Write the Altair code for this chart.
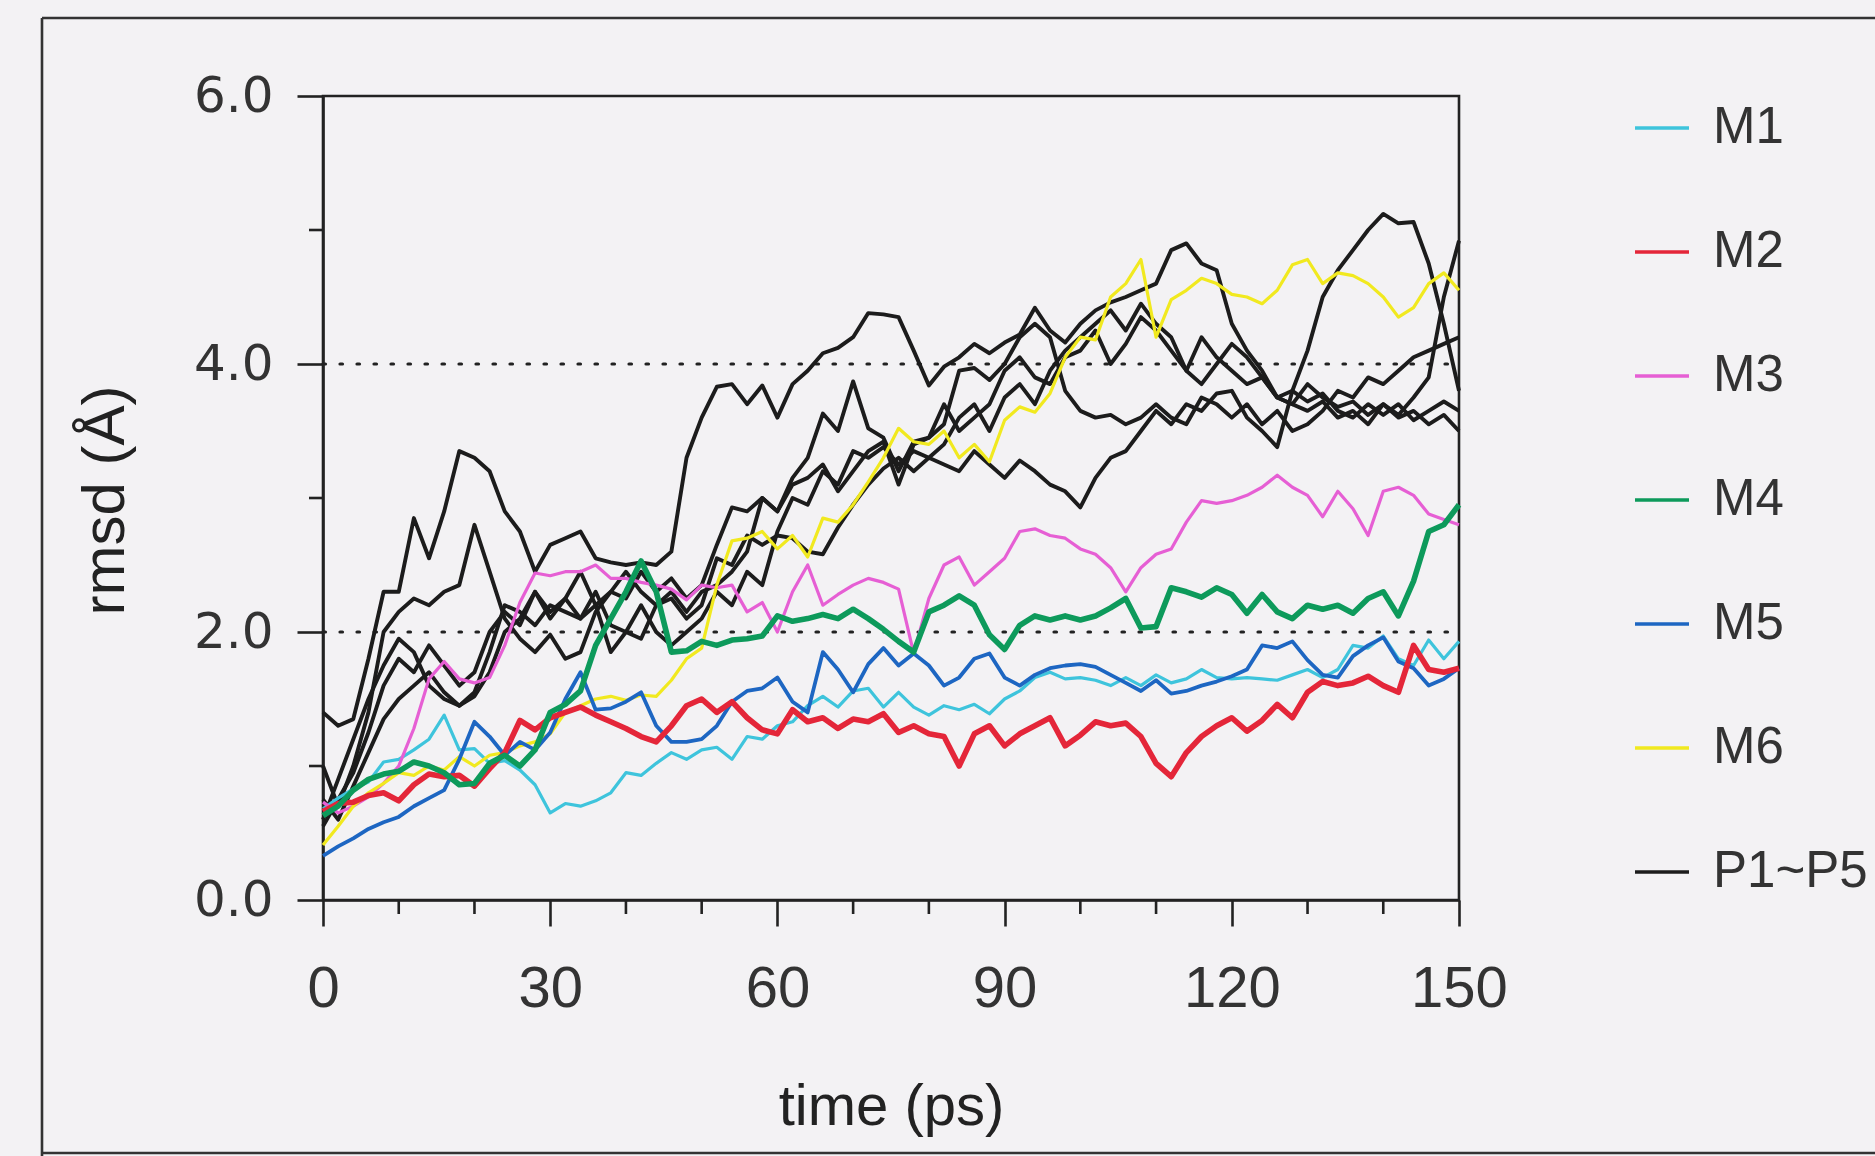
import altair as alt
import pandas as pd

# ---------------- data (every 2 ps) ----------------
time_ps = list(range(0, 151, 2))

M1 = [0.68, 0.76, 0.83, 0.88, 1.03, 1.05, 1.12, 1.2, 1.38, 1.12,
      1.13, 1.02, 1.04, 0.97, 0.86, 0.65, 0.72, 0.7, 0.74, 0.8,
      0.95, 0.93, 1.02, 1.1, 1.05, 1.12, 1.14, 1.05, 1.22, 1.2,
      1.3, 1.33, 1.45, 1.52, 1.44, 1.56, 1.58, 1.44, 1.55, 1.44,
      1.38, 1.45, 1.42, 1.46, 1.39, 1.5, 1.56, 1.66, 1.7, 1.65,
      1.66, 1.64, 1.6, 1.66, 1.6, 1.68, 1.62, 1.65, 1.72, 1.66,
      1.65, 1.66, 1.65, 1.64, 1.68, 1.72, 1.66, 1.72, 1.9, 1.88,
      1.97, 1.8, 1.75, 1.94, 1.8, 1.93]
M2 = [0.66, 0.72, 0.73, 0.78, 0.8, 0.74, 0.86, 0.94, 0.92, 0.93,
      0.85, 0.98, 1.1, 1.34, 1.27, 1.36, 1.4, 1.44, 1.38, 1.33,
      1.28, 1.22, 1.18, 1.3, 1.45, 1.5, 1.4, 1.48, 1.36, 1.27,
      1.24, 1.42, 1.33, 1.36, 1.28, 1.35, 1.33, 1.39, 1.25, 1.3,
      1.24, 1.22, 1.0, 1.24, 1.3, 1.15, 1.24, 1.3, 1.36, 1.15,
      1.23, 1.33, 1.3, 1.32, 1.22, 1.02, 0.92, 1.1, 1.22, 1.3,
      1.36, 1.26, 1.34, 1.46, 1.36, 1.55, 1.63, 1.6, 1.62, 1.67,
      1.6, 1.55, 1.9, 1.72, 1.7, 1.73]
M3 = [0.73, 0.65, 0.7, 0.77, 0.87, 1.0, 1.28, 1.65, 1.78, 1.65,
      1.62, 1.66, 1.9, 2.22, 2.44, 2.42, 2.45, 2.45, 2.5, 2.4,
      2.4, 2.37, 2.35, 2.32, 2.24, 2.35, 2.33, 2.35, 2.15, 2.22,
      2.0, 2.3, 2.5, 2.2, 2.28, 2.35, 2.4, 2.37, 2.32, 1.84,
      2.25, 2.5, 2.56, 2.35, 2.45, 2.55, 2.75, 2.77, 2.72, 2.7,
      2.62, 2.58, 2.48, 2.3, 2.48, 2.58, 2.62, 2.82, 2.98, 2.96,
      2.98, 3.02, 3.08, 3.17, 3.08, 3.02, 2.86, 3.05, 2.92, 2.72,
      3.05, 3.08, 3.02, 2.88, 2.84, 2.8]
M4 = [0.63, 0.7, 0.82, 0.9, 0.94, 0.96, 1.03, 1.0, 0.95, 0.86,
      0.87, 1.02, 1.08, 1.0, 1.12, 1.4, 1.46, 1.56, 1.9, 2.1,
      2.3, 2.53, 2.3, 1.85, 1.86, 1.93, 1.9, 1.94, 1.95, 1.97,
      2.12, 2.08, 2.1, 2.13, 2.1, 2.17, 2.1, 2.02, 1.93, 1.85,
      2.15, 2.2, 2.27, 2.2, 1.98, 1.87, 2.05, 2.12, 2.09, 2.12,
      2.09, 2.12, 2.18, 2.25, 2.03, 2.04, 2.33, 2.3, 2.26, 2.33,
      2.28, 2.14, 2.28, 2.15, 2.1, 2.2, 2.17, 2.2, 2.14, 2.25,
      2.3, 2.12, 2.38, 2.75, 2.8, 2.95]
M5 = [0.33, 0.4, 0.46, 0.53, 0.58, 0.62, 0.7, 0.76, 0.82, 1.05,
      1.33, 1.22, 1.08, 1.18, 1.12, 1.25, 1.5, 1.7, 1.42, 1.43,
      1.48, 1.55, 1.3, 1.18, 1.18, 1.2, 1.3, 1.48, 1.56, 1.58,
      1.66, 1.48, 1.4, 1.85, 1.72, 1.55, 1.76, 1.88, 1.75, 1.84,
      1.75, 1.6, 1.66, 1.8, 1.84, 1.66, 1.6, 1.68, 1.73, 1.75,
      1.76, 1.74, 1.68, 1.62, 1.56, 1.64, 1.54, 1.56, 1.6, 1.63,
      1.67, 1.72, 1.9, 1.88, 1.93, 1.79, 1.68, 1.66, 1.82, 1.9,
      1.96, 1.78, 1.73, 1.6, 1.65, 1.73]
M6 = [0.41, 0.55, 0.7, 0.8, 0.87, 0.95, 0.93, 1.0, 0.97, 1.07,
      1.0, 1.08, 1.1, 1.15, 1.18, 1.24, 1.4, 1.45, 1.5, 1.52,
      1.49, 1.53, 1.52, 1.64, 1.8, 1.88, 2.35, 2.68, 2.7, 2.75,
      2.62, 2.72, 2.56, 2.85, 2.82, 2.95, 3.12, 3.3, 3.52, 3.42,
      3.4, 3.5, 3.3, 3.4, 3.27, 3.58, 3.68, 3.64, 3.78, 4.05,
      4.2, 4.18, 4.5, 4.6, 4.78, 4.2, 4.48, 4.55, 4.64, 4.6,
      4.52, 4.5, 4.45, 4.55, 4.74, 4.78, 4.6, 4.68, 4.66, 4.6,
      4.5, 4.35, 4.42, 4.6, 4.68, 4.55]
P1 = [1.4, 1.3, 1.35, 1.8, 2.3, 2.3, 2.85, 2.55, 2.9, 3.35,
      3.3, 3.2, 2.9, 2.75, 2.45, 2.65, 2.7, 2.75, 2.55, 2.52,
      2.5, 2.52, 2.5, 2.6, 3.3, 3.6, 3.83, 3.85, 3.7, 3.84,
      3.6, 3.85, 3.95, 4.08, 4.12, 4.2, 4.38, 4.37, 4.35, 4.1,
      3.84, 3.98, 4.05, 4.15, 4.08, 4.16, 4.22, 4.42, 4.25, 4.16,
      4.3, 4.4, 4.46, 4.5, 4.55, 4.6, 4.85, 4.9, 4.75, 4.7,
      4.3, 4.1, 3.95, 3.75, 3.7, 3.85, 3.75, 3.68, 3.72, 3.62,
      3.7, 3.6, 3.65, 3.55, 3.62, 3.5]
P2 = [1.0, 0.7, 1.0, 1.4, 2.0, 2.15, 2.25, 2.2, 2.3, 2.35,
      2.8, 2.45, 2.1, 1.95, 1.85, 1.98, 1.8, 1.85, 2.15, 2.3,
      2.25, 2.45, 2.3, 2.4, 2.25, 2.35, 2.65, 2.93, 2.9, 3.0,
      2.9, 3.15, 3.3, 3.63, 3.5, 3.87, 3.52, 3.45, 3.2, 3.42,
      3.45, 3.55, 3.95, 3.97, 3.88, 4.0, 4.2, 4.3, 4.2, 3.8,
      3.65, 3.6, 3.62, 3.55, 3.6, 3.7, 3.6, 3.55, 3.75, 3.7,
      3.6, 3.7, 3.55, 3.65, 3.5, 3.55, 3.65, 3.8, 3.75, 3.9,
      3.85, 3.95, 4.05, 4.1, 4.15, 4.2]
P3 = [0.6, 0.9, 1.2, 1.5, 1.75, 1.95, 1.85, 1.6, 1.5, 1.45,
      1.55, 1.85, 2.2, 2.15, 2.05, 2.2, 2.15, 2.1, 2.3, 2.05,
      2.0, 1.95, 2.2, 2.25, 2.1, 2.2, 2.55, 2.5, 2.72, 2.65,
      2.72, 2.7, 2.6, 2.58, 2.78, 2.95, 3.1, 3.22, 3.3, 3.2,
      3.3, 3.25, 3.2, 3.35, 3.25, 3.15, 3.28, 3.2, 3.1, 3.05,
      2.93, 3.15, 3.3, 3.35, 3.5, 3.65, 3.55, 3.7, 3.65, 3.78,
      3.8, 3.6, 3.5, 3.38, 3.8, 4.1, 4.5, 4.7, 4.85, 5.0,
      5.12, 5.05, 5.06, 4.75, 4.3, 3.8]
P4 = [0.55, 0.75, 0.95, 1.25, 1.6, 1.8, 1.7, 1.9, 1.75, 1.6,
      1.7, 2.0, 2.15, 2.05, 2.3, 2.15, 2.25, 2.1, 2.2, 1.85,
      2.0, 2.2, 2.0, 1.9, 2.0, 2.1, 2.3, 2.2, 2.45, 2.35,
      2.75, 3.0, 2.95, 3.2, 3.1, 3.35, 3.3, 3.38, 3.25, 3.35,
      3.3, 3.4, 3.6, 3.7, 3.5, 3.75, 3.85, 3.7, 3.95, 4.1,
      4.2, 4.3, 4.4, 4.25, 4.45, 4.3, 4.2, 3.95, 3.85, 4.0,
      4.15, 4.05, 3.9, 3.75, 3.7, 3.65, 3.72, 3.6, 3.65, 3.55,
      3.7, 3.62, 3.75, 3.9, 4.5, 4.92]
P5 = [0.75, 0.6, 0.85, 1.1, 1.35, 1.5, 1.6, 1.7, 1.55, 1.45,
      1.52, 1.7, 2.0, 2.1, 2.3, 2.1, 2.25, 2.45, 2.2, 2.3,
      2.45, 2.3, 2.2, 2.3, 2.15, 2.3, 2.35, 2.45, 2.6, 3.0,
      2.9, 3.1, 3.15, 3.25, 3.05, 3.2, 3.35, 3.42, 3.1, 3.4,
      3.45, 3.7, 3.5, 3.6, 3.7, 3.95, 4.05, 3.9, 3.85, 4.05,
      4.1, 4.25, 4.0, 4.15, 4.35, 4.25, 4.1, 3.95, 4.2, 4.05,
      3.95, 3.85, 3.9, 3.75, 3.8, 3.72, 3.78, 3.65, 3.6, 3.7,
      3.62, 3.7, 3.58, 3.65, 3.72, 3.65]

series = [("M1", M1, "M1"), ("M2", M2, "M2"), ("M3", M3, "M3"),
          ("M4", M4, "M4"), ("M5", M5, "M5"), ("M6", M6, "M6"),
          ("P1", P1, "P1~P5"), ("P2", P2, "P1~P5"), ("P3", P3, "P1~P5"),
          ("P4", P4, "P1~P5"), ("P5", P5, "P1~P5")]

groups = ["M1", "M2", "M3", "M4", "M5", "M6", "P1~P5"]
group_colors = ["#3ec4dc", "#e42639", "#e65fd4", "#0d9a5b", "#1d66c2", "#f1e91f", "#1c1c1c"]

x_major = [0, 30, 60, 90, 120, 150]
x_minor = [10, 20, 40, 50, 70, 80, 100, 110, 130, 140]
y_major = [0, 2, 4, 6]
y_minor = [1, 3, 5]
guide_levels = [2, 4]

rows = []
for name, vals, grp in series:
    assert len(vals) == len(time_ps), name
    for t, v in zip(time_ps, vals):
        rows.append({"time": t, "rmsd": v, "series": name, "group": grp})
df = pd.DataFrame(rows)

# ---------------- style ----------------
W, H = 1136, 804
NARROW = "Liberation Sans Narrow, Liberation Sans, sans-serif"
INK = "#222222"

x_scale = alt.Scale(domain=[0, 150], nice=False, zero=False)
y_scale = alt.Scale(domain=[0, 6], nice=False)

x_enc = alt.X("time:Q", scale=x_scale,
              axis=alt.Axis(values=x_major, title="time (ps)", grid=False,
                            tickSize=26, tickWidth=2.6, tickColor=INK,
                            domainColor=INK, domainWidth=2.6,
                            labelFont=NARROW, labelFontSize=58, labelColor="#333333",
                            labelPadding=34, labelFlush=False, labelOverlap=False,
                            titleFont=NARROW, titleFontSize=58, titleFontWeight="normal",
                            titleColor=INK, titleY=224, titleBaseline="alphabetic"))
y_enc = alt.Y("rmsd:Q", scale=y_scale,
              axis=alt.Axis(values=y_major, format=".1f", title="rmsd (Å)", grid=False,
                            tickSize=26, tickWidth=2.6, tickColor=INK,
                            domainColor=INK, domainWidth=2.6,
                            labelFont="DejaVu Sans", labelFontSize=50, labelColor="#333333",
                            labelPadding=24, labelFlush=False, labelOverlap=False,
                            titleFont=NARROW, titleFontSize=60, titleFontWeight="normal",
                            titleColor=INK, titleAngle=270, titleX=-200, titleY=404,
                            titleAlign="center", titleBaseline="alphabetic"))

color_enc = alt.Color("group:N",
                      scale=alt.Scale(domain=groups, range=group_colors),
                      legend=alt.Legend(orient="none", legendX=1310, legendY=3,
                                        title=None, symbolType="stroke",
                                        symbolSize=2916, symbolStrokeWidth=3.6,
                                        labelFont=NARROW, labelFontSize=51,
                                        labelColor="#333333", labelOffset=22,
                                        rowPadding=70, labelLimit=400))

base = alt.Chart(df)


def line_layer(members, width):
    return base.transform_filter(
        alt.FieldOneOfPredicate(field="group", oneOf=members)
    ).mark_line(strokeWidth=width, strokeJoin="round").encode(
        x=x_enc, y=y_enc, color=color_enc, detail="series:N")


black_lines = line_layer(["P1~P5"], 3.9)
thin_lines = line_layer(["M1", "M3", "M6"], 3.2)
mid_lines = line_layer(["M5"], 3.8)
thick_lines = line_layer(["M2", "M4"], 5.6)

guides = alt.Chart(pd.DataFrame({"rmsd": guide_levels})).mark_rule(
    color=INK, strokeWidth=3.2, strokeDash=[2.5, 14.5], strokeCap="round").encode(
    y=y_enc, x=alt.value(0), x2=alt.value(W))

xminor = alt.Chart(pd.DataFrame({"time": x_minor})).mark_rule(
    color=INK, strokeWidth=2.6).encode(x=x_enc, y=alt.value(H), y2=alt.value(H + 14))
yminor = alt.Chart(pd.DataFrame({"rmsd": y_minor})).mark_rule(
    color=INK, strokeWidth=2.6).encode(y=y_enc, x=alt.value(-14), x2=alt.value(0))

one = pd.DataFrame({"k": [0]})
frame_top = alt.Chart(one).mark_rule(color="#333333", strokeWidth=2.6).encode(
    x=alt.value(-281), x2=alt.value(1560), y=alt.value(-78))
frame_left = alt.Chart(one).mark_rule(color="#333333", strokeWidth=2.6).encode(
    x=alt.value(-281), y=alt.value(-78), y2=alt.value(1070))
frame_bottom = alt.Chart(one).mark_rule(color="#333333", strokeWidth=2.6).encode(
    x=alt.value(-281), x2=alt.value(1560), y=alt.value(1057))

chart = alt.layer(
    frame_top, frame_left, frame_bottom,
    guides, xminor, yminor,
    black_lines, thin_lines, mid_lines, thick_lines
).properties(
    width=W, height=H,
    padding={"left": 323, "top": 96, "right": 416, "bottom": 256},
    autosize=alt.AutoSizeParams(type="none"),
    background="#f3f2f4",
).configure_view(
    stroke=INK, strokeWidth=2.6
)

chart.save("out.html", embed_options={"renderer": "svg", "actions": False})
